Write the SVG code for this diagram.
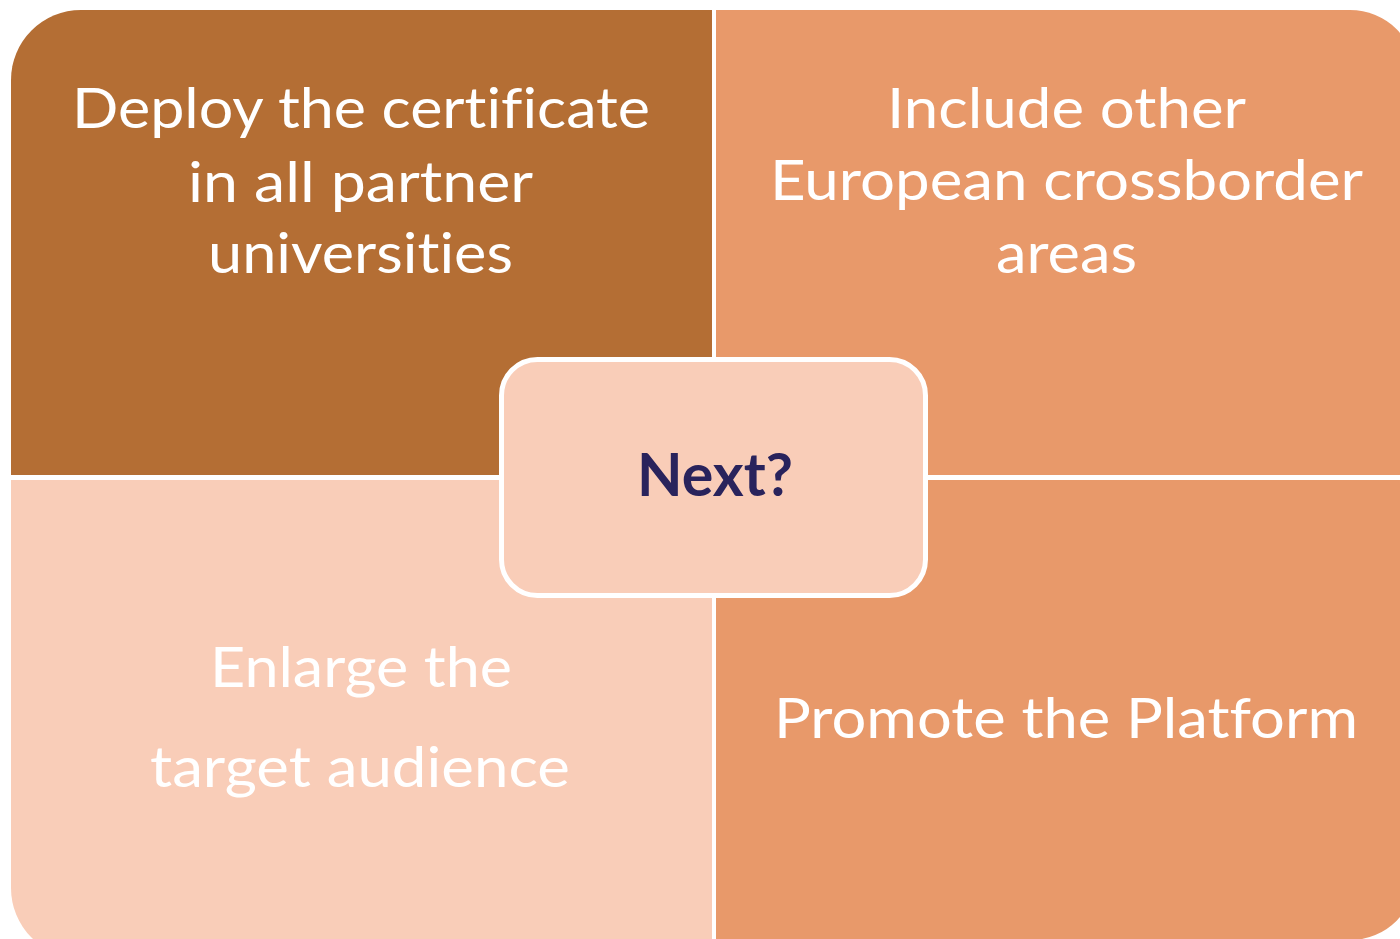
<svg xmlns="http://www.w3.org/2000/svg" width="1400" height="939" viewBox="0 0 1400 939">
  <style>
    .q { stroke: none; }
    .lbl { font-family: Lato, "Liberation Sans", sans-serif; font-size: 57px; fill: #FFFFFF; text-anchor: start; font-variant-ligatures: none; font-feature-settings: "liga" 0, "dlig" 0; }
    .ctr { font-family: Lato, "Liberation Sans", sans-serif; font-size: 59px; font-weight: bold; fill: #29235C; }
  </style>
  <rect x="0" y="0" width="1400" height="939" fill="#FFFFFF"/>
  <g id="node-deploy">
    <path class="q" fill="#B46E34" d="M11,80 A70,70 0 0 1 81,10 L712,10 L712,475 L11,475 Z"/>
    <text class="lbl" x="72" y="128" textLength="578" lengthAdjust="spacingAndGlyphs">Deploy the certificate</text>
    <text class="lbl" x="188" y="202" textLength="345" lengthAdjust="spacingAndGlyphs">in all partner</text>
    <text class="lbl" x="208" y="273" textLength="305" lengthAdjust="spacingAndGlyphs">universities</text>
  </g>
  <g id="node-include">
    <path class="q" fill="#E8996A" d="M716,10 L1350,10 A66,66 0 0 1 1416,76 L1416,475 L716,475 Z"/>
    <text class="lbl" x="887" y="128" textLength="359" lengthAdjust="spacingAndGlyphs">Include other</text>
    <text class="lbl" x="770" y="200" textLength="593" lengthAdjust="spacingAndGlyphs">European crossborder</text>
    <text class="lbl" x="996" y="273" textLength="141" lengthAdjust="spacingAndGlyphs">areas</text>
  </g>
  <g id="node-enlarge">
    <path class="q" fill="#F9CDB8" d="M11,480 L712,480 L712,958 L81,958 A70,70 0 0 1 11,888 Z"/>
    <text class="lbl" x="210" y="687" textLength="302" lengthAdjust="spacingAndGlyphs">Enlarge the</text>
    <text class="lbl" x="150" y="787" textLength="420" lengthAdjust="spacingAndGlyphs">target audience</text>
  </g>
  <g id="node-promote">
    <path class="q" fill="#E8996A" d="M716,480 L1416,480 L1416,874 A66,66 0 0 1 1350,940 L716,940 Z"/>
    <text class="lbl" x="774" y="738" textLength="584" lengthAdjust="spacingAndGlyphs">Promote the Platform</text>
  </g>
  <g id="connectors"></g>
  <g id="node-next">
    <rect x="501.5" y="359.5" width="424" height="236" rx="36" ry="36" fill="#F9CDB8" stroke="#FFFFFF" stroke-width="5"/>
    <text class="ctr" x="637" y="496" textLength="156" lengthAdjust="spacingAndGlyphs">Next?</text>
  </g>
</svg>
